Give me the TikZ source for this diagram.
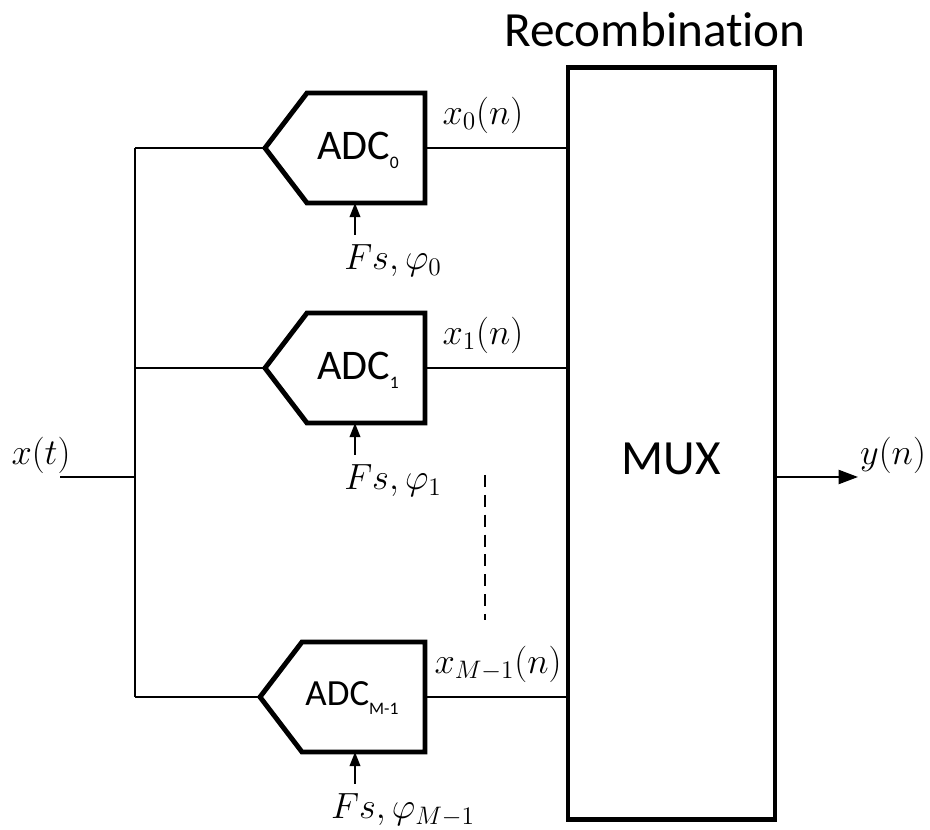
\documentclass[tikz,border=0pt]{standalone}
\usepackage{fontspec}
\setsansfont{Carlito}[Ligatures=NoCommon]
\usetikzlibrary{positioning,arrows.meta,calc}
\newcommand{\adcsub}[1]{\raisebox{-5pt}{\fontsize{10}{10}\selectfont #1}}
\tikzset{
  blok/.style={draw,line width=2.8pt,line join=miter},
  mux/.style={blok,minimum width=4.14cm,minimum height=15.06cm,inner sep=0pt},
  adctxt/.style={font=\fontsize{24}{28}\sffamily},
  velky/.style={font=\fontsize{28}{32}\sffamily},
  vodic/.style={line width=1.1pt},
  sip/.style={vodic,-{Triangle[length=11pt,width=8pt]}},
  hodiny/.style={vodic,-{Triangle[length=8pt,width=6pt]}},
  matlbl/.style={font=\fontsize{21}{24}\selectfont},
}

\begin{document}
\begin{tikzpicture}[x=0.02cm,y=-0.02cm]
  \useasboundingbox (0,0) rectangle (930,830);
  % multiplexer
  \node[mux,label={[velky,yshift=-9pt]center:MUX}] (mx) at (671.5,443.5) {};
  \node[velky] (rec) at (655,30) {Recombinat\kern0pt ion};
  % vstup
  \coordinate (xin) at (60,477); \coordinate (busin) at (135,477);
  \node[matlbl] (xt) at (41,455) {$x(t)$};
  \draw[vodic] (xin) -- (busin);
  % vetve s ADC
  \foreach \i/\yy/\tx/\sub/\idx/\lx/\fx in {0/148/265/0/0/483/393, 1/368/265/1/1/483/393, 2/697/260/M-1/M-1/498/403} {
    \coordinate (bus\i) at (135,\yy);
    \coordinate (tip\i) at (\tx,\yy);
    \coordinate (out\i) at (425,\yy);
    \coordinate (clk\i) at (355,\yy+87);
    \coordinate (adcb\i) at (355,\yy+55);
    \draw[blok] (tip\i) -- ++(42,-55) -- (425,\yy-55) -- (425,\yy+55) -- ($(tip\i)+(42,55)$) -- cycle;
    \draw[vodic] (bus\i) -- (tip\i);
    \draw[vodic] (out\i) -- (mx.west |- out\i);
    \draw[hodiny] (clk\i) -- (adcb\i);
    \node[matlbl] (xn\i) at (\lx,\yy-33) {$x_{\idx}(n)$};
    \node[matlbl] (fs\i) at (\fx,\yy+113) {$Fs,\varphi_{\idx}$};
  }
  \node[adctxt] (adc0) at (358,150) {ADC\adcsub{0}};
  \node[adctxt] (adc1) at (358,370) {ADC\adcsub{1}};
  \node[adctxt,font=\fontsize{21}{24}\sffamily] (adc2) at (352,698) {ADC\adcsub{M-1}};
  \draw[vodic] (bus0) -- (bus2);
  % tecky mezi vetvemi
  \coordinate (dt) at (485,475); \coordinate (db) at (485,620);
  \draw[line width=1.6pt,dash pattern=on 6.8pt off 4.5pt] (dt) -- (db);
  % vystup
  \coordinate (yout) at (858,477);
  \draw[sip] (mx.east |- yout) -- (yout);
  \node[matlbl] (yn) at (893,455) {$y(n)$};
\end{tikzpicture}
\end{document}
